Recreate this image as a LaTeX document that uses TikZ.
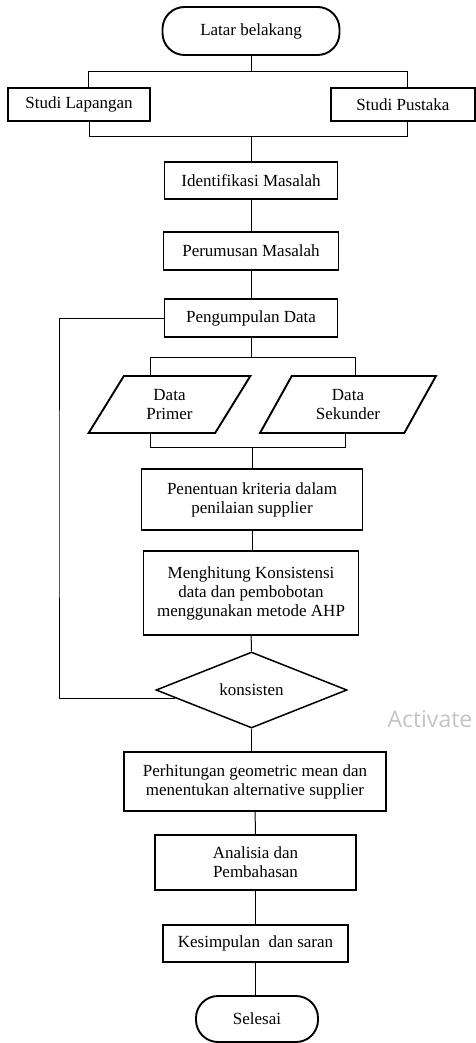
\documentclass[tikz,border=0pt]{standalone}
\usepackage{fontspec}
\setmainfont{Liberation Serif}
\newfontfamily\winfont{Open Sans}
\usepackage{xcolor}
\usepackage{tikz}
\usetikzlibrary{shapes.geometric,calc}
\definecolor{wGray}{RGB}{196,196,196}

\begin{document}
\begin{tikzpicture}[x=1pt,y=-1pt,font=\fontsize{17}{19}\selectfont,
  box/.style={draw,line width=1.9pt,rectangle,align=center,inner sep=2pt},
  term/.style={box,rounded corners=22pt},
  io/.style={draw,line width=1.9pt,trapezium,trapezium left angle=60,trapezium right angle=120,trapezium stretches=true,align=center,inner sep=1pt},
  decide/.style={draw,line width=1.5pt,diamond,aspect=2.5,inner sep=0pt},
  link/.style={line width=1pt}]
  \useasboundingbox (0,0) rectangle (476,1043);

  \node[term, minimum width=177pt, minimum height=48pt] (latar) at (251,31) {Latar belakang};
  \node[box, minimum width=142pt, minimum height=33pt] (lap) at (79,104.5) {Studi Lapangan};
  \node[box, minimum width=144pt, minimum height=33pt] (pus) at (403,104.5) {Studi Pustaka};
  \node[box, minimum width=173pt, minimum height=37pt] (ident) at (251,180.5) {Identifikasi Masalah};
  \node[box, minimum width=175pt, minimum height=38pt] (rumus) at (251,251) {Perumusan Masalah};
  \node[box, minimum width=173pt, minimum height=38pt] (peng) at (251,318) {Pengumpulan Data};
  \node[io, minimum width=163pt, minimum height=57pt] (prim) at (169.5,404.5) {Data\\Primer};
  \node[io, minimum width=176pt, minimum height=57pt] (sek) at (348,404.5) {Data\\Sekunder};
  \node[box, minimum width=221pt, minimum height=61pt] (tentu) at (252,499.5) {Penentuan kriteria dalam\\penilaian supplier};
  \node[box, minimum width=215pt, minimum height=84pt] (hitung) at (251,593) {Menghitung Konsistensi\\data dan pembobotan\\menggunakan metode AHP};
  \node[decide, minimum width=191pt, minimum height=76pt] (dia) at (251.5,690) {konsisten};
  \node[box, minimum width=262pt, minimum height=59pt] (perh) at (255,781.5) {Perhitungan geometric mean dan\\menentukan alternative supplier};
  \node[box, minimum width=201pt, minimum height=55pt] (anal) at (255.5,862.5) {Analisia dan\\Pembahasan};
  \node[box, minimum width=185pt, minimum height=37pt] (kes) at (255.5,943.5) {Kesimpulan\ \ dan saran};
  \node[term, minimum width=122pt, minimum height=46pt] (sel) at (257,1019) {Selesai};

  \node[anchor=west, text=wGray, font=\winfont\fontsize{23}{26}\selectfont] (act) at (384,719) {Activate};

  % branch and join lines
  \draw[link] (latar.south) -- ++(0,16) coordinate (j0);
  \draw[link] ([xshift=9pt]lap.north) |- (j0) -| ([xshift=4pt]pus.north);
  \draw[link] (ident.north) -- ++(0,-25) coordinate (j1);
  \draw[link] ([xshift=10pt]lap.south) |- (j1) -| ([xshift=4pt]pus.south);
  \draw[link] (ident) -- (rumus);
  \draw[link] (rumus) -- (peng);
  \draw[link] (peng.south) -- ++(0,20) coordinate (j2);
  \draw[link] ([xshift=-19.5pt]prim.north) |- (j2) -| ([xshift=7pt]sek.north);
  \draw[link] (tentu.north) -- ++(0,-21) coordinate (j3);
  \draw[link] ([xshift=-19.5pt]prim.south) |- (j3) -| ([xshift=-3pt]sek.south);
  \draw[link] (tentu.south) -- (tentu.south |- hitung.north);
  \draw[link] (hitung) -- (dia);
  \draw[link] (dia.south) -- (dia.south |- perh.north);
  \draw[link] (perh) -- (anal);
  \draw[link] (anal) -- (kes);
  \draw[link] (kes) -- (kes.south |- sel.north);

  % loop back when not consistent
  \coordinate (back) at (59,500);
  \draw[link] (dia.186) -| (back) |- (peng.west);
\end{tikzpicture}
\end{document}
